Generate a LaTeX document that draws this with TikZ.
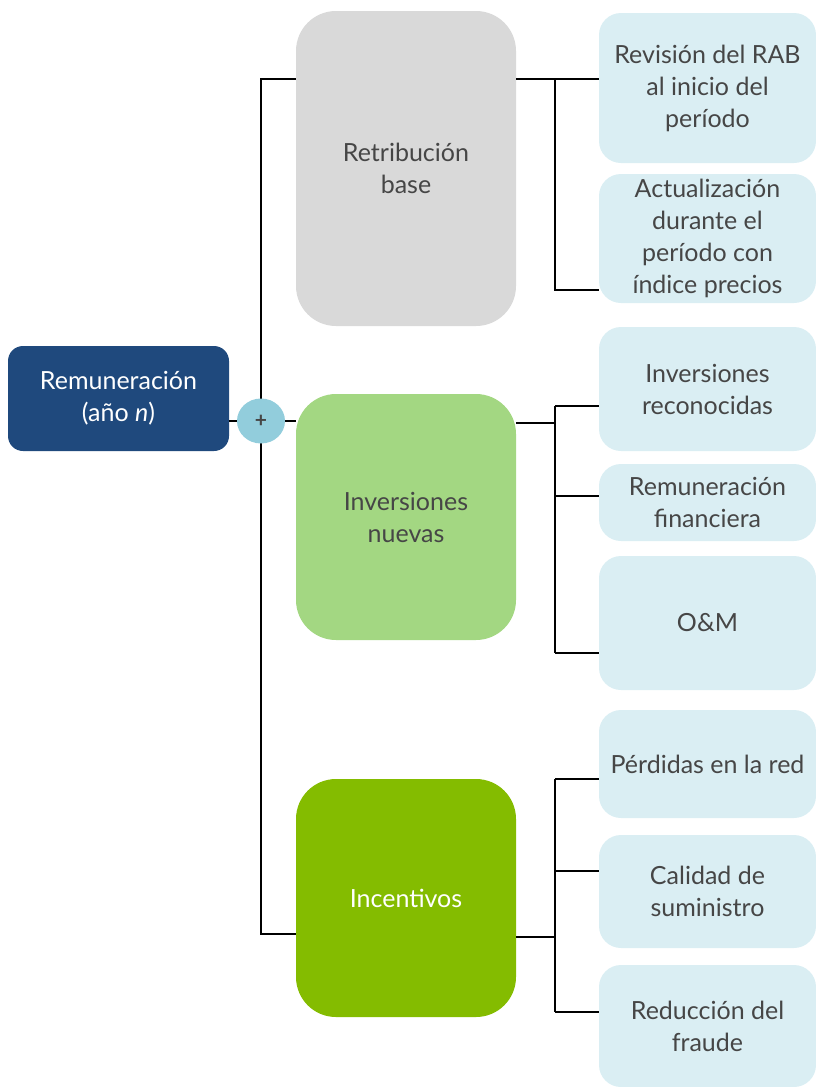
\documentclass[tikz,border=0pt]{standalone}
\usepackage{fontspec}
\setmainfont{Lato}
\usetikzlibrary{calc,positioning}

\definecolor{remblue}{RGB}{31,73,125}
\definecolor{plusblue}{RGB}{146,205,220}
\definecolor{basegray}{RGB}{217,217,217}
\definecolor{newgreen}{RGB}{163,215,130}
\definecolor{incgreen}{RGB}{132,188,0}
\definecolor{leafblue}{RGB}{218,238,243}
\definecolor{txtgray}{RGB}{70,70,70}

\tikzset{
  rootbox/.style={rectangle, rounded corners=15pt, fill=remblue, text=white,
    minimum width=221pt, minimum height=105pt, align=center},
  plusdot/.style={ellipse, fill=plusblue, text=txtgray, minimum width=48pt,
    minimum height=45pt, inner sep=0pt, font=\bfseries\fontsize{21}{21}\selectfont},
  catbox/.style={rectangle, rounded corners=40pt, fill=#1, text=txtgray,
    minimum width=220pt, align=center},
  leafbox/.style={rectangle, rounded corners=22pt, fill=leafblue, text=txtgray,
    minimum width=217pt, align=center},
  link/.style={line width=2pt, black}
}
\usetikzlibrary{shapes.geometric}

\begin{document}
\begin{tikzpicture}[x=1pt,y=-1pt,
    every node/.style={font=\fontsize{25}{32}\selectfont}]
            \useasboundingbox (0,0) rectangle (816,1087);

            % root
            \node [rootbox] (rem) at (118.5,398.5) {Remuneración\\(año \textit{n})};

            % categories
            \node [catbox=basegray, minimum height=315pt] (base) at (406,168.5) {Retribución\\base};
            \node [catbox=newgreen, minimum height=246pt] (nuevas) at (406,517) {Inversiones\\nuevas};
            \node [catbox=incgreen, minimum height=238pt, text=white] (incent) at (406,898) {Incentivos};

            % leaves
            \node [leafbox, minimum height=150pt] (rab) at (707.5,88) {Revisión del RAB\\al inicio del\\período};
            \node [leafbox, minimum height=129pt] (act) at (707.5,238.5) {Actualización\\durante el\\período con\\índice precios};
            \node [leafbox, minimum height=124pt] (inv) at (707.5,389) {Inversiones\\reconocidas};
            \node [leafbox, minimum height=77pt] (fin) at (707.5,502.5) {Remuneración\\financiera};
            \node [leafbox, minimum height=134pt] (om) at (707.5,623) {O\&M};
            \node [leafbox, minimum height=108pt] (perd) at (707.5,764) {Pérdidas en la red};
            \node [leafbox, minimum height=113pt] (cal) at (707.5,891.5) {Calidad de\\suministro};
            \node [leafbox, minimum height=122pt] (fraude) at (707.5,1026) {Reducción del\\fraude};

            % left spine
            \coordinate (pc) at (261,421);
            \coordinate (lt) at (261,79);
            \coordinate (lb) at (261,934);
            \draw [link] (base.west |- lt) -- (lt) -- (lb) -- (incent.west |- lb);
            \draw [link] (rem.east |- pc) -- (pc) -- (nuevas.west |- pc);
            \node [plusdot] (plus) at (pc) {+};

            % base -> leaves
            \coordinate (b1) at (555,79);
            \coordinate (b2) at (555,290);
            \draw [link] (base.east |- b1) -- (rab.west |- b1);
            \draw [link] (b1) -- (b2) -- (act.west |- b2);

            % nuevas -> leaves
            \coordinate (n0) at (555,423);
            \coordinate (n1) at (555,406);
            \coordinate (n2) at (555,496);
            \coordinate (n3) at (555,653);
            \draw [link] (nuevas.east |- n0) -- (n0);
            \draw [link] (n1) -- (n3);
            \draw [link] (n1) -- (inv.west |- n1);
            \draw [link] (n2) -- (fin.west |- n2);
            \draw [link] (n3) -- (om.west |- n3);

            % incentivos -> leaves
            \coordinate (i0) at (555,937);
            \coordinate (i1) at (555,779);
            \coordinate (i2) at (555,871);
            \coordinate (i3) at (555,1012);
            \draw [link] (incent.east |- i0) -- (i0);
            \draw [link] (i1) -- (i3);
            \draw [link] (i1) -- (perd.west |- i1);
            \draw [link] (i2) -- (cal.west |- i2);
            \draw [link] (i3) -- (fraude.west |- i3);
\end{tikzpicture}
\end{document}
